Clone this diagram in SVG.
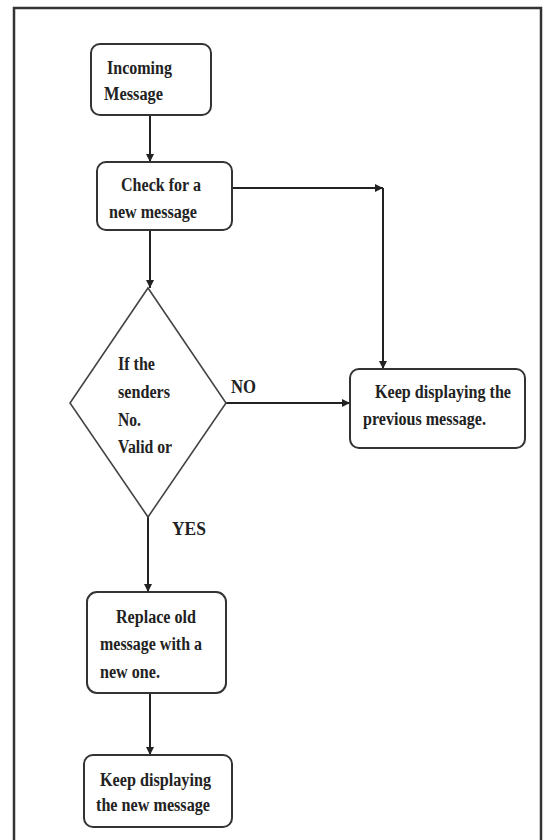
<svg xmlns="http://www.w3.org/2000/svg" width="552" height="840" viewBox="0 0 552 840">
<style>
.box{fill:#fff;stroke:#333;stroke-width:2}
.dia{fill:#fff;stroke:#444;stroke-width:1.6}
.edge{fill:none;stroke:#222;stroke-width:2}
text{font-family:"Liberation Serif","Times New Roman",serif;font-weight:bold;font-size:18px;fill:#222}
</style>
<defs>
<marker id="ah" viewBox="0 0 10 10" refX="10" refY="5" markerWidth="4" markerHeight="4" orient="auto" markerUnits="strokeWidth">
<path d="M0,0 L10,5 L0,10 z" fill="#222"/>
</marker>
</defs>
<rect x="0" y="0" width="552" height="840" fill="#fff"/>
<rect id="frame" x="14" y="8" width="527" height="840" fill="none" stroke="#333" stroke-width="2.5"/>
<g id="connectors">
<path class="edge" d="M150,115 V162" marker-end="url(#ah)"/>
<path class="edge" d="M150,230 V288" marker-end="url(#ah)"/>
<path class="edge" d="M232,188 H383" marker-end="url(#ah)"/>
<path class="edge" d="M383,188 V369" marker-end="url(#ah)"/>
<path class="edge" d="M226,403 H350" marker-end="url(#ah)"/>
<path class="edge" d="M148,517 V592" marker-end="url(#ah)"/>
<path class="edge" d="M150,693 V755" marker-end="url(#ah)"/>
</g>
<g id="incoming">
<rect class="box" x="91" y="44" width="120" height="71" rx="9"/>
<text x="107" y="74" textLength="65" lengthAdjust="spacingAndGlyphs">Incoming</text>
<text x="104" y="100" textLength="59" lengthAdjust="spacingAndGlyphs">Message</text>
</g>
<g id="check">
<rect class="box" x="97" y="162" width="135" height="68" rx="9"/>
<text x="121" y="191" textLength="80" lengthAdjust="spacingAndGlyphs">Check for a</text>
<text x="109" y="218" textLength="88" lengthAdjust="spacingAndGlyphs">new message</text>
</g>
<g id="decision">
<polygon class="dia" points="148,288 226,403 148,517 70,403"/>
<text x="118" y="370" textLength="37" lengthAdjust="spacingAndGlyphs">If the</text>
<text x="118" y="398" textLength="52" lengthAdjust="spacingAndGlyphs">senders</text>
<text x="118" y="426" textLength="23" lengthAdjust="spacingAndGlyphs">No.</text>
<text x="118" y="453" textLength="54" lengthAdjust="spacingAndGlyphs">Valid or</text>
</g>
<g id="keep-prev">
<rect class="box" x="350" y="369" width="175" height="79" rx="9"/>
<text x="375" y="398" textLength="136" lengthAdjust="spacingAndGlyphs">Keep displaying the</text>
<text x="363" y="425" textLength="123" lengthAdjust="spacingAndGlyphs">previous message.</text>
</g>
<g id="replace">
<rect class="box" x="87" y="592" width="139" height="101" rx="10"/>
<text x="116" y="623" textLength="80" lengthAdjust="spacingAndGlyphs">Replace old</text>
<text x="100" y="650" textLength="102" lengthAdjust="spacingAndGlyphs">message with a</text>
<text x="100" y="678" textLength="60" lengthAdjust="spacingAndGlyphs">new one.</text>
</g>
<g id="keep-new">
<rect class="box" x="84" y="755" width="148" height="72" rx="9"/>
<text x="100" y="786" textLength="111" lengthAdjust="spacingAndGlyphs">Keep displaying</text>
<text x="96" y="811" textLength="114" lengthAdjust="spacingAndGlyphs">the new message</text>
</g>
<g id="labels">
<text x="231" y="393" textLength="25" lengthAdjust="spacingAndGlyphs">NO</text>
<text x="172" y="535" textLength="34" lengthAdjust="spacingAndGlyphs">YES</text>
</g>
</svg>
